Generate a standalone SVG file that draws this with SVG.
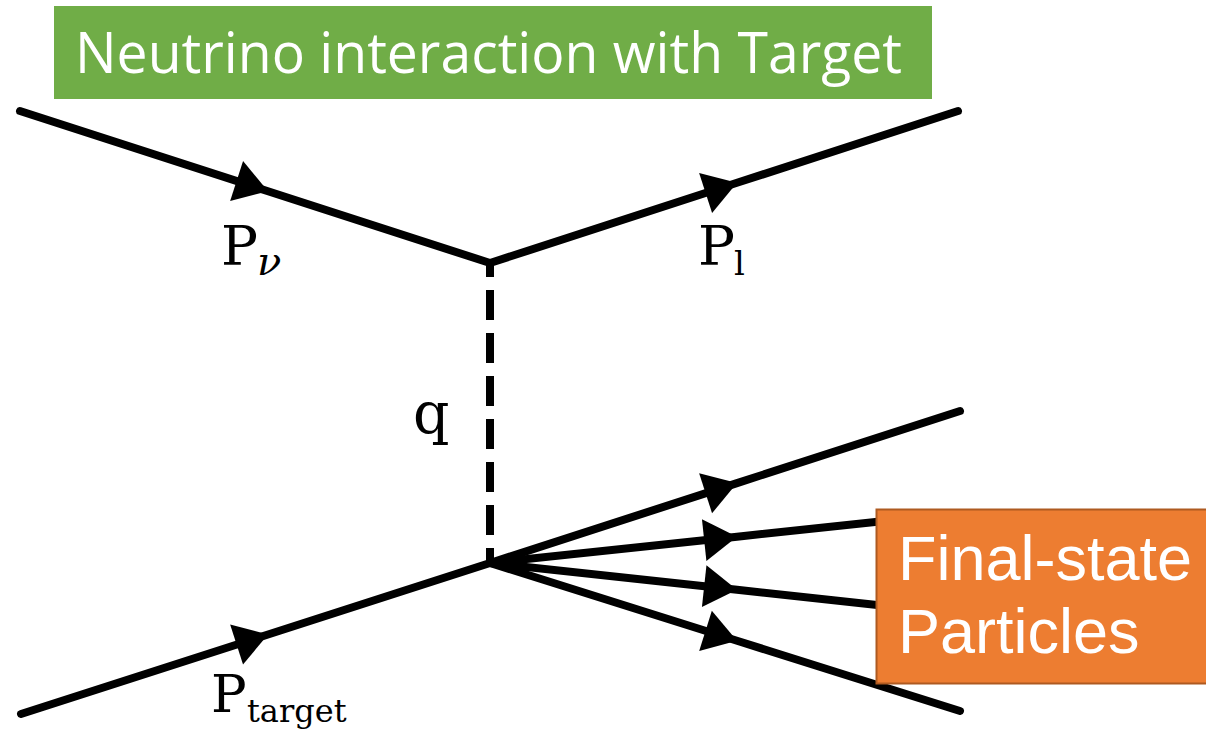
<svg xmlns="http://www.w3.org/2000/svg" width="1206" height="729" viewBox="0 0 1206 729">
  <style>
    .line { fill: none; stroke: #000; stroke-width: 8; stroke-linecap: round; stroke-linejoin: round; }
    .fermion { marker-mid: url(#arrow); }
    .boson { fill: none; stroke: #000; stroke-width: 8; stroke-dasharray: 30 13; stroke-dashoffset: 16; }
    .math { font-family: "DejaVu Serif", "Liberation Serif", serif; fill: #000; }
    .title { font-family: "Open Sans", "Noto Sans", sans-serif; font-size: 57px; fill: #fff; }
    .box-text { font-family: "Liberation Sans", Arial, sans-serif; font-size: 63px; fill: #fff; }
  </style>
  <defs>
    <marker id="arrow" markerUnits="userSpaceOnUse" viewBox="-34 -22 35 44" markerWidth="35" markerHeight="44" refX="0" refY="0" orient="auto" overflow="visible">
      <path d="M0,0 L-33,-21 L-33,21 Z" fill="#000"/>
    </marker>
  </defs>
  <rect width="1206" height="729" fill="#fff"/>

  <g id="connectors">
    <path class="line fermion" d="M20,111 L268,191.2 L490,263"/>
    <path class="line fermion" d="M490,263 L737,182.8 L958,111"/>
    <path class="line fermion" d="M21,714 L268,634.5 L490,563"/>
    <path class="line fermion" d="M490,563 L737,483.1 L960,411"/>
    <path class="line fermion" d="M490,563 L737,536.7 L960,513"/>
    <path class="line fermion" d="M490,563 L737,589.8 L960,614"/>
    <path class="line fermion" d="M490,563 L737,640.8 L960,711"/>
    <path class="boson" d="M490,263 L490,563"/>
  </g>

  <g id="label-p-nu">
    <text class="math" x="221" y="265" font-size="55">P</text>
    <text class="math" x="257" y="275" font-size="40" font-style="italic">ν</text>
  </g>
  <g id="label-p-l">
    <text class="math" x="698" y="265" font-size="55">P</text>
    <text class="math" x="734" y="275" font-size="34">l</text>
  </g>
  <g id="label-q">
    <text class="math" x="413" y="433" font-size="57">q</text>
  </g>
  <g id="label-p-target">
    <text class="math" x="211" y="712" font-size="53">P</text>
    <text class="math" x="247" y="722" font-size="32">target</text>
  </g>

  <g id="title-box">
    <rect x="54" y="6" width="878" height="93" fill="#70AD47"/>
    <text class="title" x="75" y="73" textLength="827" lengthAdjust="spacingAndGlyphs">Neutrino interaction with Target</text>
  </g>

  <g id="final-state-box">
    <rect x="876.5" y="509.5" width="340" height="174" fill="#ED7D31" stroke="#AE5A21" stroke-width="2"/>
    <text class="box-text" x="898" y="580">Final-state</text>
    <text class="box-text" x="898" y="653">Particles</text>
  </g>
</svg>
